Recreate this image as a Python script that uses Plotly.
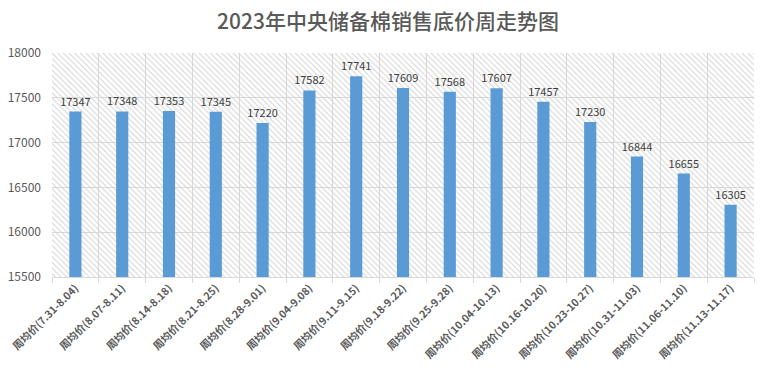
import plotly.graph_objects as go

categories = ["周均价(7.31-8.04)", "周均价(8.07-8.11)", "周均价(8.14-8.18)", "周均价(8.21-8.25)",
              "周均价(8.28-9.01)", "周均价(9.04-9.08)", "周均价(9.11-9.15)", "周均价(9.18-9.22)",
              "周均价(9.25-9.28)", "周均价(10.04-10.13)", "周均价(10.16-10.20)", "周均价(10.23-10.27)",
              "周均价(10.31-11.03)", "周均价(11.06-11.10)", "周均价(11.13-11.17)"]
values = [17347, 17348, 17353, 17345, 17220, 17582, 17741, 17609, 17568, 17607, 17457, 17230, 16844, 16655, 16305]
y_min, y_max = 15500, 18000
title = "2023年中央储备棉销售底价周走势图"

FONT = "Noto Sans CJK SC"
n = len(categories)
pos = list(range(n))

fig = go.Figure()

# hatched plot-area background
fig.add_trace(go.Bar(
    x=[(n - 1) / 2], y=[y_max - y_min], base=[y_min], width=[n],
    marker=dict(color="rgba(0,0,0,0)", line=dict(width=0),
                pattern=dict(shape="\\", fillmode="replace", fgcolor="#d2d2d2",
                             bgcolor="rgba(0,0,0,0)", size=4, solidity=0.25)),
    hoverinfo="skip", showlegend=False,
))

fig.add_trace(go.Bar(
    x=pos, y=[v - y_min for v in values], base=[y_min] * n, width=[0.26] * n,
    marker=dict(color="#5b9bd5", line=dict(width=0)),
    text=[str(v) for v in values], textposition="outside", constraintext="none",
    textfont=dict(family=FONT, size=11, color="#404040"),
    cliponaxis=False, showlegend=False,
))

# page body has an 8px default margin, so the figure is sized to fit the window
fig.update_layout(
    width=760, height=368,
    margin=dict(l=44, r=14, t=45, b=99),
    paper_bgcolor="white", plot_bgcolor="white",
    barmode="overlay",
    title=dict(text=title, x=0.5, xanchor="center", y=0.962, yanchor="middle",
               font=dict(family=FONT, size=21, color="#595959", weight=500)),
    xaxis=dict(range=[-0.5, n - 0.5], tickmode="array", tickvals=pos, ticktext=categories,
               showgrid=False, ticks="", zeroline=False, automargin=False,
               showline=True, linecolor="#d9d9d9", tickangle=-45,
               minor=dict(tick0=-0.5, dtick=1, showgrid=True, gridcolor="#d9d9d9", gridwidth=1,
                          ticks="outside", ticklen=5, tickcolor="#d9d9d9"),
               tickfont=dict(family=FONT, size=10.5, color="#595959", weight="bold")),
    yaxis=dict(range=[y_min, y_max], dtick=500, tickformat="d", showgrid=True, gridcolor="#d9d9d9",
               gridwidth=1, zeroline=False, showline=False, ticklabelstandoff=10, automargin=False,
               tickfont=dict(family=FONT, size=12, color="#595959")),
)

fig.write_html("out.html")
